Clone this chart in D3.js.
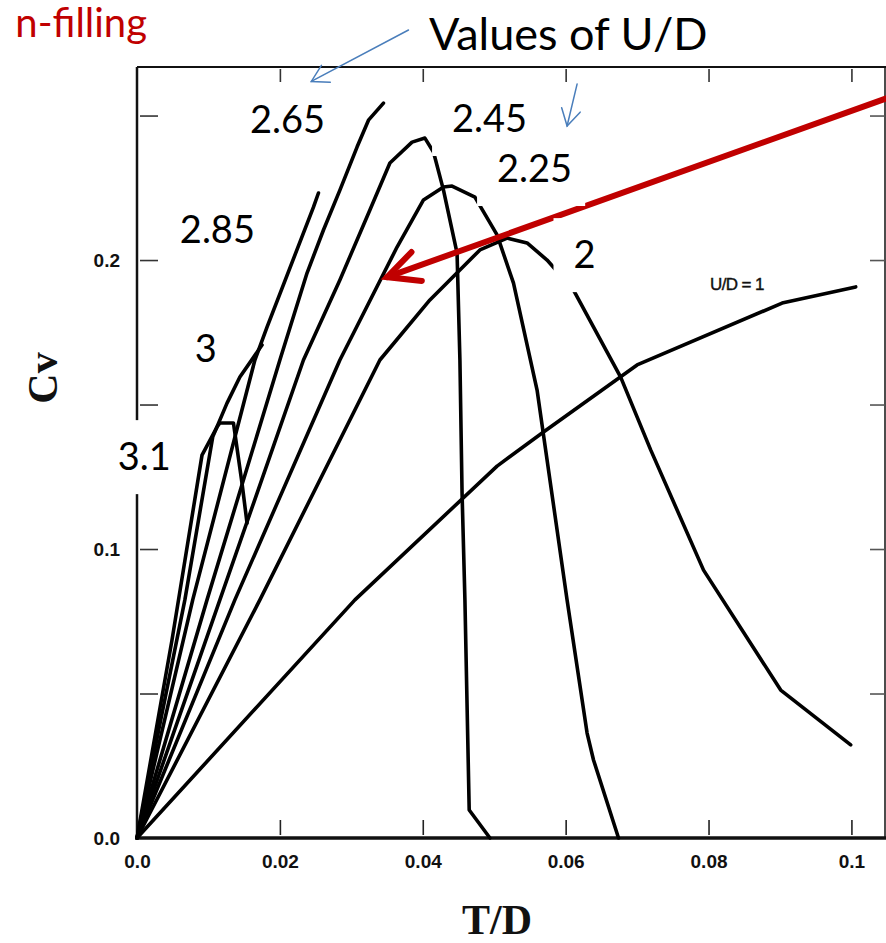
<!DOCTYPE html>
<html>
<head>
<meta charset="utf-8">
<script src="https://cdn.jsdelivr.net/npm/d3@7"></script>
<style>
  body { margin: 0; background: #fff; }
  svg { display: block; }
</style>
</head>
<body>
<div id="chart"></div>
<script>
var width = 886,
    height = 943;

// curves, points are [T/D, Cv]
const ud_1 = [[0, 0], [0.0305, 0.0824], [0.0504, 0.1287], [0.0569, 0.1405], [0.0700, 0.1637], [0.0903, 0.1851], [0.1006, 0.1907]];
const ud_2 = [[0, 0], [0.0172, 0.0824], [0.0340, 0.1654], [0.0410, 0.1862], [0.0480, 0.2035], [0.0518, 0.2076], [0.0546, 0.2059],
    [0.0574, 0.2000], [0.0611, 0.1896], [0.0677, 0.1595], [0.0719, 0.1343], [0.0793, 0.0927], [0.0901, 0.0512], [0.0999, 0.0322]];
const ud_225 = [[0, 0], [0.0137, 0.0824], [0.0284, 0.1654], [0.0364, 0.2045], [0.0401, 0.2208], [0.0429, 0.2253], [0.0441, 0.2256],
    [0.0473, 0.2218], [0.0504, 0.2087], [0.0527, 0.1920], [0.0560, 0.1550], [0.0602, 0.0824], [0.0630, 0.0363], [0.0639, 0.0270], [0.0674, 0]];
const ud_245 = [[0, 0], [0.0116, 0.0824], [0.0233, 0.1654], [0.0284, 0.1931], [0.0326, 0.2173], [0.0354, 0.2336], [0.0385, 0.2408],
    [0.0403, 0.2422], [0.0415, 0.2374], [0.0429, 0.2242], [0.0448, 0.2024], [0.0452, 0.1654], [0.0455, 0.1194], [0.0459, 0.0824],
    [0.0465, 0.0097], [0.0494, 0]];
const ud_265 = [[0, 0], [0.0098, 0.0824], [0.0200, 0.1654], [0.0238, 0.1955], [0.0261, 0.2104], [0.0284, 0.2242], [0.0308, 0.2391],
    [0.0324, 0.2484], [0.0345, 0.2543]];
const ud_285 = [[0, 0], [0.0078, 0.0824], [0.0165, 0.1654], [0.0182, 0.1768], [0.0247, 0.2183], [0.0254, 0.2232]];
const ud_3 = [[0, 0], [0.0067, 0.0824], [0.0106, 0.1388], [0.0126, 0.1505], [0.0144, 0.1595], [0.0175, 0.1706]];
const ud_31 = [[0, 0], [0.0049, 0.0685], [0.0091, 0.1325], [0.0112, 0.1422], [0.0116, 0.1436], [0.0135, 0.1436], [0.0147, 0.1228], [0.0154, 0.1090]];

const curveNames = ["1", "2", "2.25", "2.45", "2.65", "2.85", "3", "3.1"];
const curveData = [ud_1, ud_2, ud_225, ud_245, ud_265, ud_285, ud_3, ud_31];

// axis ticks
const xTickValues = [0, 0.02, 0.04, 0.06, 0.08, 0.1];
const xTickLabels = ["0.0", "0.02", "0.04", "0.06", "0.08", "0.1"];
const xMarks = [0.02, 0.04, 0.06, 0.08, 0.1];
const yTickValues = [0, 0.1, 0.2];
const yTickLabels = ["0.0", "0.1", "0.2"];
const yMarks = [0.05, 0.1, 0.15, 0.2, 0.25];

// U/D labels on the curves (the slide puts them in white text boxes)
const udLabels = ["2.65", "2.45", "2.25", "2.85", "2", "3", "3.1"];
const udLabelAt = [[0.0158, 0.2439], [0.0441, 0.2443], [0.0504, 0.2270], [0.0060, 0.2059], [0.0611, 0.1972], [0.0081, 0.1647], [-0.0027, 0.1273]];

var x = d3.scaleLinear()
    .domain([0, 0.1047])
    .range([137, 885]);

var y = d3.scaleLinear()
    .domain([0, 0.2668])
    .range([838, 67]);

var line = d3.line()
    .x(d => x(d[0]))
    .y(d => y(d[1]));

var svg = d3.select("#chart")
    .append("svg")
    .attr("width", width)
    .attr("height", height);

svg.append("rect")
    .attr("width", width)
    .attr("height", height)
    .attr("fill", "#fff");

// frame
const frame = svg.append("g").attr("stroke", "#111").attr("fill", "none");
frame.append("line").attr("x1", x(0)).attr("x2", x(0)).attr("y1", y.range()[1]).attr("y2", y(0)).attr("stroke-width", 2.5);
frame.append("line").attr("x1", x(0)).attr("x2", width).attr("y1", y(0)).attr("y2", y(0)).attr("stroke-width", 3.5);
frame.append("line").attr("x1", x(0)).attr("x2", width).attr("y1", y.range()[1]).attr("y2", y.range()[1]).attr("stroke-width", 2);
frame.append("line").attr("x1", x.range()[1]).attr("x2", x.range()[1]).attr("y1", y.range()[1]).attr("y2", y(0)).attr("stroke-width", 1.5);

// tick marks on all four sides
function ticksOnly(g, color) {
    g.select(".domain").remove();
    g.selectAll(".tick line").attr("stroke", color).attr("stroke-width", 1.6);
}
svg.append("g").attr("transform", "translate(0," + (y(0) - 3) + ")")
    .call(d3.axisBottom(x).tickValues(xMarks).tickSize(-15).tickFormat(""))
    .call(ticksOnly, "#222");
svg.append("g").attr("transform", "translate(0," + (y.range()[1] + 2) + ")")
    .call(d3.axisBottom(x).tickValues(xMarks).tickSize(13).tickFormat(""))
    .call(ticksOnly, "#333");
svg.append("g").attr("transform", "translate(" + (x(0) + 3) + ",0)")
    .call(d3.axisRight(y).tickValues(yMarks).tickSize(18).tickFormat(""))
    .call(ticksOnly, "#333");
svg.append("g").attr("transform", "translate(" + x.range()[1] + ",0)")
    .call(d3.axisLeft(y).tickValues(yMarks).tickSize(15).tickFormat(""))
    .call(ticksOnly, "#555");

// tick labels
svg.append("g").attr("transform", "translate(0," + y(0) + ")")
    .call(d3.axisBottom(x).tickValues(xTickValues).tickSize(0).tickPadding(17)
        .tickFormat((d, i) => xTickLabels[i]))
    .call(g => g.select(".domain").remove())
    .selectAll("text")
    .attr("font-family", "Liberation Sans, Arial, sans-serif")
    .attr("font-weight", "bold")
    .attr("font-size", 19)
    .attr("fill", "#111");

svg.append("g").attr("transform", "translate(" + x(0) + ",0)")
    .call(d3.axisLeft(y).tickValues(yTickValues).tickSize(0).tickPadding(17)
        .tickFormat((d, i) => yTickLabels[i]))
    .call(g => g.select(".domain").remove())
    .selectAll("text")
    .attr("font-family", "Liberation Sans, Arial, sans-serif")
    .attr("font-weight", "bold")
    .attr("font-size", 19)
    .attr("fill", "#111");

// axis titles
svg.append("text")
    .attr("transform", "translate(57,378) rotate(-90)")
    .attr("text-anchor", "middle")
    .attr("font-family", "Liberation Serif, Times New Roman, serif")
    .attr("font-weight", "bold")
    .attr("font-size", 42)
    .attr("fill", "#111")
    .text("Cv");

svg.append("text")
    .attr("x", 497)
    .attr("y", 934)
    .attr("text-anchor", "middle")
    .attr("font-family", "Liberation Serif, Times New Roman, serif")
    .attr("font-weight", "bold")
    .attr("font-size", 42)
    .attr("fill", "#111")
    .text("T/D");

// the curves
svg.append("g")
    .selectAll("path")
    .data(curveData)
    .join("path")
    .attr("class", (d, i) => "ud ud-" + curveNames[i])
    .attr("d", line)
    .attr("fill", "none")
    .attr("stroke", "#000")
    .attr("stroke-width", 3.6)
    .attr("stroke-linejoin", "round")
    .attr("stroke-linecap", "round");

svg.append("text")
    .attr("x", x(0.0802))
    .attr("y", y(0.1897))
    .attr("font-family", "Liberation Sans, Arial, sans-serif")
    .attr("font-size", 17)
    .attr("letter-spacing", -0.6)
    .attr("fill", "#111")
    .attr("stroke", "#111")
    .attr("stroke-width", 0.4)
    .text("U/D = 1");

// arrows
function arrow(g, p0, p1, color, w, headLen, headAng) {
    const x1 = x(p0[0]), y1 = y(p0[1]), x2 = x(p1[0]), y2 = y(p1[1]);
    const a = Math.atan2(y1 - y2, x1 - x2);
    const b1 = [x2 + headLen * Math.cos(a + headAng), y2 + headLen * Math.sin(a + headAng)];
    const b2 = [x2 + headLen * Math.cos(a - headAng), y2 + headLen * Math.sin(a - headAng)];
    g.append("line")
        .attr("x1", x1).attr("y1", y1).attr("x2", x2).attr("y2", y2)
        .attr("stroke", color).attr("stroke-width", w).attr("stroke-linecap", "round");
    g.append("path")
        .attr("d", "M" + b1 + "L" + x2 + "," + y2 + "L" + b2)
        .attr("fill", "none").attr("stroke", color).attr("stroke-width", w)
        .attr("stroke-linecap", "round").attr("stroke-linejoin", "miter");
}

const redArrow = svg.append("g");
arrow(redArrow, [0.1062, 0.2571], [0.0350, 0.1941], "#c00000", 6, 35, 26 * Math.PI / 180);

// white label boxes on top of the curves
const labelFont = "Lato, Open Sans, sans-serif";
svg.append("g")
    .selectAll("g")
    .data(udLabels)
    .join("g")
    .each(function (d, i) {
        const g = d3.select(this);
        const lx = x(udLabelAt[i][0]), ly = y(udLabelAt[i][1]);
        const box = g.append("rect").attr("fill", "#fff");
        const t = g.append("text")
            .attr("x", lx)
            .attr("y", ly)
            .attr("font-family", labelFont)
            .attr("font-size", 38)
            .attr("fill", "#000")
            .text(d);
        const tw = t.node().getComputedTextLength();
        box.attr("x", lx - 20).attr("y", ly - 50).attr("width", tw + 33).attr("height", 74);
    });

const blueArrows = svg.append("g");
arrow(blueArrows, [0.0380, 0.2796], [0.0244, 0.2618], "#4a7ebb", 1.5, 19, 30 * Math.PI / 180);
arrow(blueArrows, [0.0616, 0.2609], [0.0602, 0.2464], "#4a7ebb", 1.5, 19, 30 * Math.PI / 180);

svg.append("text")
    .attr("x", 429)
    .attr("y", 50)
    .attr("font-family", labelFont)
    .attr("font-size", 45)
    .attr("fill", "#000")
    .text("Values of U/D");

svg.append("text")
    .attr("x", 147)
    .attr("y", 37)
    .attr("text-anchor", "end")
    .attr("font-family", labelFont)
    .attr("font-size", 40)
    .attr("fill", "#c00000")
    .text("n-filling");
</script>
</body>
</html>
